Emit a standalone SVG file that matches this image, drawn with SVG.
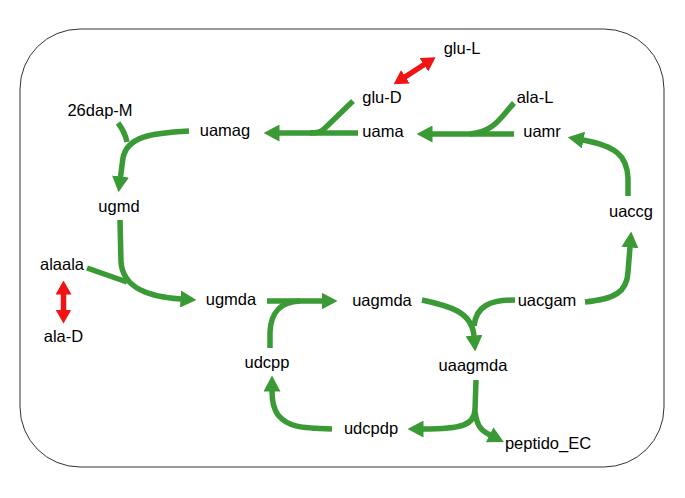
<svg xmlns="http://www.w3.org/2000/svg" width="685" height="498" viewBox="0 0 685 498">
<defs>
<style>
.lbl{font-family:"Liberation Sans",Arial,Helvetica,sans-serif;font-size:16.5px;fill:#000;text-anchor:middle}
.g{fill:none;stroke:#3a9a35;stroke-width:5.5;stroke-linecap:butt}
.r{fill:none;stroke:#f01414;stroke-width:5.5}
</style>
<marker id="ag" markerUnits="userSpaceOnUse" markerWidth="16" markerHeight="17" viewBox="0 0 16 17" refX="0.5" refY="8.5" orient="auto"><path d="M0,0 L16,8.5 L0,17 z" fill="#3a9a35"/></marker>
<marker id="ar" markerUnits="userSpaceOnUse" markerWidth="14" markerHeight="16" viewBox="0 0 14 16" refX="0.5" refY="8" orient="auto-start-reverse"><path d="M0,0 L14,8 L0,16 z" fill="#f01414"/></marker>
</defs>
<rect x="20" y="29" width="644" height="438" rx="60" ry="60" fill="#fff" stroke="#333" stroke-width="1"/>
<g id="connectors">
<path class="g" d="M628,196 L628,178 C627,155 615,146 583,140" marker-end="url(#ag)"/>
<path class="g" d="M585,302 C615,299 627,292 628,272 L630,247" marker-end="url(#ag)"/>
<path class="g" d="M514,134 L432,134" marker-end="url(#ag)"/>
<path class="g" d="M514,103 C500,118 494,132 470,134"/>
<path class="g" d="M358,133 L279,133" marker-end="url(#ag)"/>
<path class="g" d="M353,101 L324,129 Q321,133 310,133"/>
<path class="g" d="M189,131 C150,133 127,137 123,158 L120.5,177" marker-end="url(#ag)"/>
<path class="g" d="M118,123 Q125,132 127,142"/>
<path class="g" d="M120,220 L121,262 C123,288 148,297 181,299" marker-end="url(#ag)"/>
<path class="g" d="M87,268 L127,282"/>
<path class="g" d="M267,301 L322,301" marker-end="url(#ag)"/>
<path class="g" d="M270,348 L270,332 C271,312 280,302 300,301"/>
<path class="g" d="M422,300 C450,306 472,312 474,336" marker-end="url(#ag)"/>
<path class="g" d="M515,300 C490,300 476,306 474,326"/>
<path class="g" d="M476,380 L475,410 C474,425 462,429 423,429" marker-end="url(#ag)"/>
<path class="g" d="M475,412 C477,425 480,430 490,435" marker-end="url(#ag)"/>
<path class="g" d="M332,429 C300,428 288,427 278,415 C273,408 272,400 272,391" marker-end="url(#ag)"/>
<path class="r" d="M405,77 L424.3,64.5" marker-start="url(#ar)" marker-end="url(#ar)"/>
<path class="r" d="M63.5,294 L63.5,310" marker-start="url(#ar)" marker-end="url(#ar)"/>
</g>
<g id="glu-L"><text class="lbl" x="462" y="54">glu-L</text></g>
<g id="glu-D"><text class="lbl" x="382" y="103">glu-D</text></g>
<g id="ala-L"><text class="lbl" x="535" y="103">ala-L</text></g>
<g id="26dap-M"><text class="lbl" x="100" y="115.5">26dap-M</text></g>
<g id="uamag"><text class="lbl" x="225" y="135.5">uamag</text></g>
<g id="uama"><text class="lbl" x="383" y="137">uama</text></g>
<g id="uamr"><text class="lbl" x="542" y="137">uamr</text></g>
<g id="ugmd"><text class="lbl" x="119" y="212">ugmd</text></g>
<g id="uaccg"><text class="lbl" x="631" y="217">uaccg</text></g>
<g id="alaala"><text class="lbl" x="62" y="269.5">alaala</text></g>
<g id="ala-D"><text class="lbl" x="63.5" y="341.5">ala-D</text></g>
<g id="ugmda"><text class="lbl" x="231" y="304.5">ugmda</text></g>
<g id="uagmda"><text class="lbl" x="382" y="306">uagmda</text></g>
<g id="uacgam"><text class="lbl" x="547" y="306">uacgam</text></g>
<g id="udcpp"><text class="lbl" x="267" y="367.5">udcpp</text></g>
<g id="uaagmda"><text class="lbl" x="473" y="371">uaagmda</text></g>
<g id="udcpdp"><text class="lbl" x="371" y="434">udcpdp</text></g>
<g id="peptido_EC"><text class="lbl" x="548" y="449">peptido_EC</text></g>
</svg>
